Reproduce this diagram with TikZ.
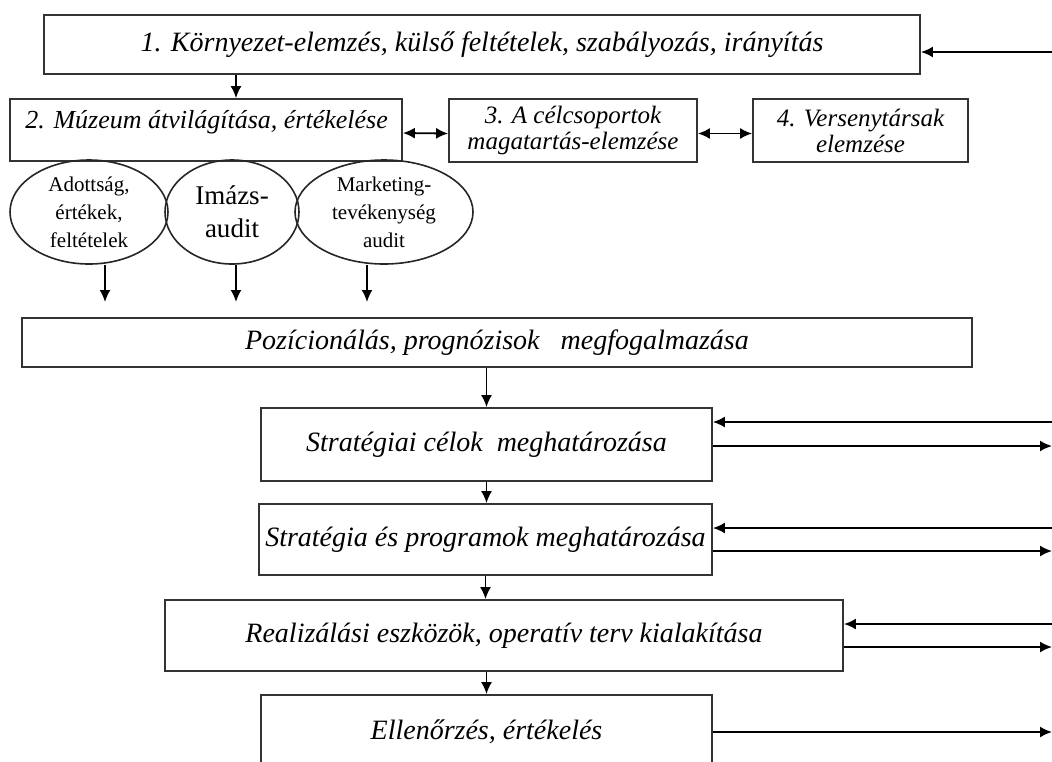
\documentclass[tikz,border=0pt]{standalone}
\usepackage{fontspec}
\setmainfont{Liberation Serif}
\usetikzlibrary{arrows.meta,shapes.geometric}

\tikzset{
  box/.style={draw=black!80, line width=0.9pt, rectangle, inner sep=0pt,
    align=center, font=\itshape\fontsize{14}{15}\selectfont},
  smallbox/.style={box, font=\itshape\fontsize{12.5}{13}\selectfont},
  oval/.style={draw=black!85, line width=0.8pt, ellipse, inner sep=0pt,
    align=center, font=\fontsize{10.5}{14}\selectfont},
  link/.style={->, line width=0.9pt},
}

\begin{document}
\begin{tikzpicture}[x=0.5pt, y=-0.5pt, >={Latex[length=6pt,width=5.5pt]}]

    %% Background
    \useasboundingbox (0,0) rectangle (1052,761);
    \clip (0,0) rectangle (1052,761);

    %% upper part
    \node[box, minimum width=438pt, minimum height=29.5pt] (b1) at (482,44.5)
        {1. Környezet-elemzés, külső feltételek, szabályozás, irányítás};
    \node[box, minimum width=196pt, minimum height=31pt] (b2) at (206,130) {};
    \node[anchor=west, inner sep=0pt, font=\itshape\fontsize{13}{14}\selectfont] (b2t) at (25,122)
        {2. Múzeum átvilágítása, értékelése};
    \node[smallbox, minimum width=124pt, minimum height=31.5pt] (b3) at (573,130.5)
        {3. A célcsoportok\\magatartás-elemzése};
    \node[smallbox, minimum width=107.5pt, minimum height=31.5pt] (b4) at (860.5,130.5)
        {4. Versenytársak\\elemzése};

    \node[oval, minimum width=79pt, minimum height=52pt] (e1) at (89,212)
        {Adottság,\\értékek,\\feltételek};
    \node[oval, minimum width=67pt, minimum height=52pt, font=\fontsize{13.5}{16.5}\selectfont] (e2) at (232,212)
        {Imázs-\\audit};
    \node[oval, minimum width=89pt, minimum height=52pt] (e3) at (384,212)
        {Marketing-\\tevékenység\\audit};

    \coordinate (a1) at (105,302);
    \coordinate (a2) at (236,302);
    \coordinate (a3) at (367,302);

    %% lower part
    \node[box, minimum width=475pt, minimum height=24.5pt] (b5) at (497,342.5)
        {Pozícionálás, prognózisok\ \ \ megfogalmazása};
    \node[box, minimum width=225.5pt, minimum height=36.5pt] (b6) at (486.5,444.5)
        {Stratégiai célok\ \ meghatározása};
    \node[box, minimum width=226.5pt, minimum height=35.5pt] (b7) at (485.5,539.5)
        {Stratégia és programok meghatározása};
    \node[box, minimum width=339pt, minimum height=35.5pt] (b8) at (504,635.5)
        {Realizálási eszközök, operatív terv kialakítása};
    \node[box, minimum width=225.5pt, minimum height=37pt] (b9) at (486.5,732)
        {Ellenőrzés, értékelés};

    \coordinate (r1) at (1052,52);
    \coordinate (r2) at (1052,422);
    \coordinate (r3) at (1052,446);
    \coordinate (r4) at (1052,528);
    \coordinate (r5) at (1052,551);
    \coordinate (r6) at (1052,624);
    \coordinate (r7) at (1052,647);
    \coordinate (r8) at (1052,732);

    %% connectors
    \draw[link] ([xshift=15pt]b2.north |- b1.south) -- ([xshift=15pt]b2.north);
    \draw[link, <->] ([yshift=-1.5pt]b2.east) -- ([yshift=-1.5pt]b3.west);
    \draw[link, <->] ([yshift=-1.5pt]b3.east) -- ([yshift=-1.5pt]b4.west);

    \draw[link] (e1.south -| a1) -- (a1);
    \draw[link] (e2.south -| a2) -- (a2);
    \draw[link] (e3.south -| a3) -- (a3);

    \draw[link] (b5.south -| b6.north) -- (b6.north);
    \draw[link] (b6.south) -- (b7.north -| b6.south);
    \draw[link] (b7.south) -- (b7.south |- b8.north);
    \draw[link] (b9.north |- b8.south) -- (b9.north);

    \draw[link] (r1) -- (r1 -| b1.east);
    \draw[link] (r2) -- (r2 -| b6.east);
    \draw[link] (r3 -| b6.east) -- (r3);
    \draw[link] (r4) -- (r4 -| b7.east);
    \draw[link] (r5 -| b7.east) -- (r5);
    \draw[link] (r6) -- (r6 -| b8.east);
    \draw[link] (r7 -| b8.east) -- (r7);
    \draw[link] (r8 -| b9.east) -- (r8);

\end{tikzpicture}
\end{document}
